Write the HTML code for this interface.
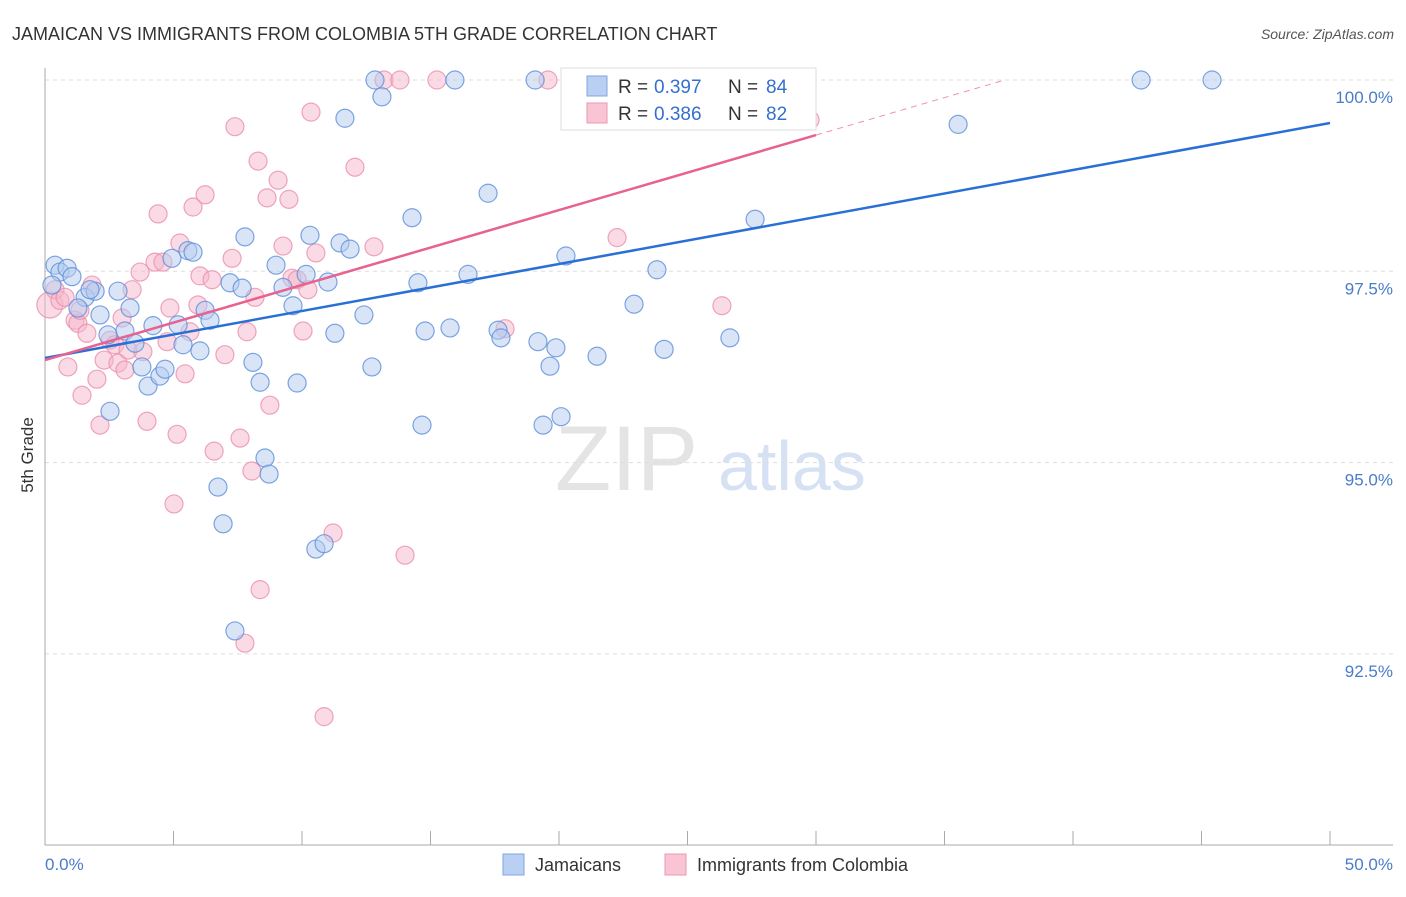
<!DOCTYPE html>
<html><head><meta charset="utf-8"><style>
body{margin:0;background:#fff;font-family:"Liberation Sans",sans-serif}
svg text{font-family:"Liberation Sans",sans-serif}
</style></head><body>
<svg id="chart" width="1406" height="892" xmlns="http://www.w3.org/2000/svg">
<text x="12" y="40" font-size="18" fill="#333">JAMAICAN VS IMMIGRANTS FROM COLOMBIA 5TH GRADE CORRELATION CHART</text>
<text x="1394" y="39" font-size="14" font-style="italic" fill="#555" text-anchor="end">Source: ZipAtlas.com</text>
<text x="555" y="490" font-size="92" fill="#e4e4e4" font-family="Liberation Serif">ZIP</text>
<text x="718" y="490" font-size="70" fill="#d6e2f3">atlas</text>
<text transform="translate(33,455) rotate(-90)" font-size="17" fill="#333" text-anchor="middle">5th Grade</text>
<g id="grid"></g><g id="pts"></g><g id="lines"></g>
<g>
<rect x="561" y="68" width="255" height="62" fill="#fff" stroke="#ddd"/>
<rect x="587" y="76" width="20" height="20" fill="#b9d0f2" stroke="#7fa6e0"/>
<rect x="587" y="103" width="20" height="20" fill="#f9c4d3" stroke="#eb97b1"/>
<text x="618" y="93" font-size="19" fill="#333">R =</text>
<text x="654" y="93" font-size="19" fill="#3470d0">0.397</text>
<text x="728" y="93" font-size="19" fill="#333">N =</text>
<text x="766" y="93" font-size="19" fill="#3470d0">84</text>
<text x="618" y="120" font-size="19" fill="#333">R =</text>
<text x="654" y="120" font-size="19" fill="#3470d0">0.386</text>
<text x="728" y="120" font-size="19" fill="#333">N =</text>
<text x="766" y="120" font-size="19" fill="#3470d0">82</text>
</g>
<g>
<rect x="503" y="854" width="21" height="21" fill="#b9d0f2" stroke="#7fa6e0"/>
<text x="535" y="871" font-size="18" fill="#333">Jamaicans</text>
<rect x="665" y="854" width="21" height="21" fill="#f9c4d3" stroke="#eb97b1"/>
<text x="697" y="871" font-size="18" fill="#333">Immigrants from Colombia</text>
</g>
</svg>
<script>
const yTicks=[100,97.5,95,92.5];
const yTickLabels=["100.0%","97.5%","95.0%","92.5%"];
const xTickLabels=["0.0%","50.0%"];
const blueX=[.39,.58,.86,1.05,.27,1.56,1.95,1.75,1.28,2.14,2.84,3.31,3.11,2.45,3.50,4.20,3.77,4.01,4.47,4.67,2.53,4.94,5.56,5.76,5.18,5.37,6.03,6.23,6.42,7.20,7.67,7.78,8.09,8.37,8.99,9.26,9.65,9.81,10.31,10.16,11.01,11.48,11.87,11.28,12.41,12.72,11.67,12.84,13.11,14.28,14.51,14.79,14.67,15.76,15.95,16.46,17.24,17.63,17.74,19.07,19.18,19.38,19.65,19.88,20.08,20.27,21.48,22.92,23.81,24.09,26.50,26.65,27.63,35.53,42.65,45.41,6.73,6.93,8.56,8.72,10.54,10.86,7.39];
const blueY=[97.58,97.49,97.54,97.43,97.32,97.16,97.24,97.26,97.02,96.93,97.24,97.02,96.72,96.67,96.56,96.79,96.25,96.00,96.13,96.22,95.67,97.67,97.77,97.75,96.80,96.54,96.46,96.99,96.86,97.35,97.28,97.95,96.31,96.05,97.58,97.29,97.05,96.04,97.97,97.46,97.36,97.87,97.79,96.69,96.93,96.25,99.50,100,99.78,98.20,97.35,96.72,95.49,96.76,100,97.46,98.52,96.73,96.63,100,96.58,95.49,96.26,96.50,95.60,97.70,96.39,97.07,97.52,96.48,100,96.63,98.18,99.42,100,100,94.68,94.20,95.06,94.85,93.87,93.94,92.80];
const pinkX=[.19,.39,.58,.78,.89,1.17,1.28,1.36,1.44,1.63,1.83,2.02,2.14,2.30,2.53,2.72,2.84,3.00,3.11,3.23,3.39,3.70,3.81,3.97,4.28,4.40,4.59,4.75,4.86,5.02,5.14,5.25,5.45,5.64,5.76,5.95,6.03,6.23,6.50,6.58,7.00,7.28,7.39,7.59,7.86,8.05,8.17,8.29,8.37,8.64,8.75,7.78,9.07,9.26,9.49,9.61,9.81,10.04,10.23,10.35,10.54,10.86,11.21,12.06,12.80,13.19,13.81,14.01,15.25,17.90,19.57,20.78,22.26,26.34,29.77,24.16];
const pinkY=[97.06,97.26,97.12,97.16,96.25,96.86,96.82,96.99,95.88,96.69,97.32,96.09,95.49,96.34,96.60,96.54,96.30,96.89,96.21,96.47,97.26,97.49,96.45,95.54,97.62,98.25,97.62,96.58,97.02,94.46,95.37,97.87,96.16,96.71,98.34,97.06,97.44,98.50,97.39,95.15,96.41,97.67,99.39,95.32,96.71,94.89,97.16,98.94,93.34,98.46,95.75,92.64,98.69,97.83,98.44,97.41,97.39,96.72,97.26,99.58,97.74,91.68,94.08,98.86,97.82,100,100,93.79,100,96.75,100,100,97.94,97.05,99.48,100];
const blueTrend=[96.367,99.438];
const pinkTrend=[96.34,99.28];
const NS="http://www.w3.org/2000/svg";
const X=v=>45+v/50*1285, Y=v=>80+(100-v)/2.5*191.3;
function mk(tag,attrs,parent){const e=document.createElementNS(NS,tag);for(const k in attrs)e.setAttribute(k,attrs[k]);parent.appendChild(e);return e;}
const g=document.getElementById('grid');
yTicks.forEach((t,i)=>{
 const l=mk('line',{x1:45,x2:1393,y1:Y(t),y2:Y(t),stroke:'#ddd','stroke-dasharray':'4,4'},g);
 
 
 const tx=mk('text',{x:1393,y:Y(t)+23,'font-size':17,fill:'#4a7cc9','text-anchor':'end'},g);
 tx.textContent=yTickLabels[i];
 
 
});
const ax=mk('line',{x1:45,x2:45,y1:68,y2:845,stroke:'#aaa'},g);


const bx=mk('line',{x1:45,x2:1393,y1:845,y2:845,stroke:'#aaa'},g);


for(let i=0;i<=10;i++){const t=mk('line',{x1:X(i*5),x2:X(i*5),y1:831,y2:845,stroke:'#aaa'},g);
 
 }
[[0,'start'],[50,'end']].forEach((p,i)=>{const t=mk('text',{x:i?1393:45,y:870,'font-size':17,fill:'#4a7cc9','text-anchor':p[1]},g);t.textContent=xTickLabels[i];
 
 });
const pg=document.getElementById('pts');
function dots(xs,ys,fill,stroke,name,big){xs.forEach((x,i)=>{const c=mk('circle',{cx:X(x),cy:Y(ys[i]),r:(big&&x<0.3?13:9),fill:fill,'fill-opacity':0.5,stroke:stroke,'stroke-width':1.2,'stroke-opacity':0.8},pg);
 
 });}
dots(pinkX,pinkY,'#f6b6c9','#eb8fae','colombia-point',true);
dots(blueX,blueY,'#b4ccf0','#5d8fdb','jamaican-point',false);
const lg=document.getElementById('lines');
const bl=mk('line',{x1:X(0),y1:Y(blueTrend[0]),x2:X(50),y2:Y(blueTrend[1]),stroke:'#2a6fd6','stroke-width':2.5},lg);


const pl=mk('line',{x1:X(0),y1:Y(pinkTrend[0]),x2:X(30),y2:Y(pinkTrend[1]),stroke:'#e8628f','stroke-width':2.5},lg);


const s=(pinkTrend[1]-pinkTrend[0])/30, xe=(100-pinkTrend[0])/s;
const pd=mk('line',{x1:X(30),y1:Y(pinkTrend[1]),x2:X(xe),y2:Y(100),stroke:'#e8628f','stroke-width':1,'stroke-dasharray':'6,5','stroke-opacity':0.7},lg);


</script>
</body></html>
